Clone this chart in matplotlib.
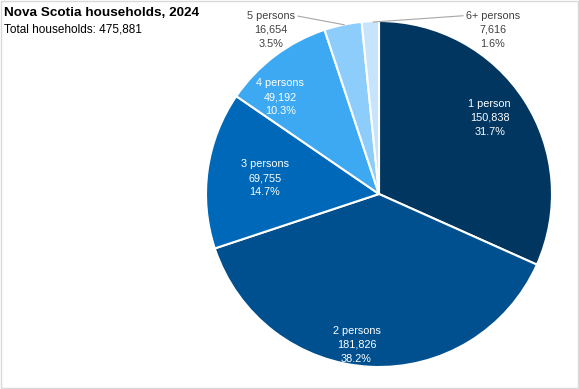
import matplotlib.pyplot as plt
from matplotlib.patches import Rectangle

categories = ['1 person', '2 persons', '3 persons', '4 persons', '5 persons', '6+ persons']
households = [150838, 181826, 69755, 49192, 16654, 7616]
shares = [31.7, 38.2, 14.7, 10.3, 3.5, 1.6]
colors = ['#003660', '#00508f', '#0068b8', '#3da9f3', '#8dcdfb', '#c6e5fc']

plt.rcParams['font.family'] = ['Liberation Sans', 'DejaVu Sans']

fig = plt.figure(figsize=(5.79, 3.89), dpi=100)
fig.patches.append(Rectangle((0.002, 0.003), 0.996, 0.994, transform=fig.transFigure,
                             fill=False, edgecolor='#d9d9d9', linewidth=1))

# pie centre ~ (379,194) px, radius ~173 px
R = 173
ax = fig.add_axes([(379 - R) / 579, (389 - 194 - R) / 389, 2 * R / 579, 2 * R / 389])
ax.pie(households, colors=colors, startangle=90, counterclock=False,
       wedgeprops=dict(edgecolor='white', linewidth=1.5))
ax.set_xlim(-1, 1)
ax.set_ylim(-1, 1)
ax.set_aspect('equal')
ax.axis('off')

texts = [f'{c}\n{v:,}\n{s}%' for c, v, s in zip(categories, households, shares)]
fs = 7.8
ls = 1.5

# inside labels
inside_pos = [(0.64, 0.44), (-0.13, -0.87), (-0.66, 0.09), (-0.57, 0.56)]
for t, (x, y) in zip(texts[:4], inside_pos):
    ax.text(x, y, t, ha='center', va='center', color='white', fontsize=fs, linespacing=ls)

# outside labels with leader lines
ax.annotate(texts[4], xy=(-0.2, 0.978), xytext=(-0.624, 0.948), textcoords='data',
            ha='center', va='center', fontsize=fs, color='#404040', linespacing=ls,
            arrowprops=dict(arrowstyle='-', color='#a6a6a6', lw=0.8,
                            shrinkA=0, shrinkB=0, relpos=(1.0, 0.88)),
            annotation_clip=False)
ax.annotate(texts[5], xy=(-0.035, 0.994), xytext=(0.659, 0.948), textcoords='data',
            ha='center', va='center', fontsize=fs, color='#404040', linespacing=ls,
            arrowprops=dict(arrowstyle='-', color='#a6a6a6', lw=0.8,
                            shrinkA=0, shrinkB=0, relpos=(0.0, 0.88)),
            annotation_clip=False)

fig.text(4 / 579, 1 - 13 / 389, 'Nova Scotia households, 2024', fontsize=9.7,
         fontweight='bold', va='center', ha='left')
fig.text(4 / 579, 1 - 30 / 389, 'Total households: 475,881', fontsize=8.5,
         va='center', ha='left')

fig.savefig('out.png', dpi=100)
